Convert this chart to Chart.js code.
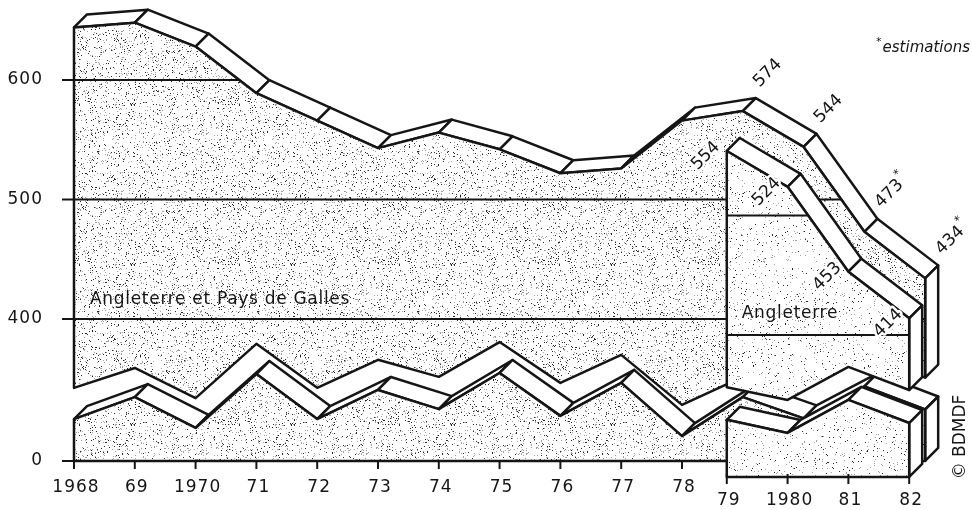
<!DOCTYPE html>
<html>
<head>
<meta charset="utf-8">
<style>
  html, body { margin: 0; padding: 0; background: #fff; }
  #chart { display: block; }
</style>
<script src="https://cdn.jsdelivr.net/npm/chart.js@4.4.1/dist/chart.umd.min.js"></script>
</head>
<body>
<canvas id="chart" width="972" height="510"></canvas>
<script>
// Angleterre et Pays de Galles, 1968-1982 (back layer)
const years = [1968, 1969, 1970, 1971, 1972, 1973, 1974, 1975, 1976, 1977, 1978, 1979, 1980, 1981, 1982];
const ewValues = [644, 648, 628, 589, 566, 543, 556, 542, 522, 526, 566, 574, 544, 473, 434];
// zigzag "cut" of the broken axis, in 0-400 units
const ewBreakTop = [206, 262, 177, 330, 206, 285, 237, 335, 220, 299, 158, 237, 210, 300, 235];
const ewBreakBottom = [118, 180, 93, 245, 118, 200, 146, 248, 127, 220, 70, 180, 120, 210, 145];

// Angleterre, 1979-1982 (front layer)
const englandYears = [1979, 1980, 1981, 1982];
const englandValues = [554, 524, 453, 414];
const englandBreakTop = [253, 217, 310, 245];
const englandBreakBottom = [161, 124, 217, 152];

const ewLabelYears = [1979, 1980, 1981, 1982];
const ewLabelTexts = ['574', '544', '473', '434'];
const ewLabelStars = [false, false, true, true];
const englandLabelTexts = ['554', '524', '453', '414'];

const yTicks = [0, 400, 500, 600];
const yTickLabels = ['0', '400', '500', '600'];
const backXTicks = [1968, 1969, 1970, 1971, 1972, 1973, 1974, 1975, 1976, 1977, 1978];
const backXLabels = ['1968', '69', '1970', '71', '72', '73', '74', '75', '76', '77', '78'];
const frontXTicks = [1979, 1980, 1981, 1982];
const frontXLabels = ['79', '1980', '81', '82'];

// axis is broken below 400: 0..400 squeezed
const BREAK_FROM = 400;
const BREAK_RATIO = 0.297;
function toAxis(v) {
  return v >= BREAK_FROM ? v : BREAK_FROM - (BREAK_FROM - v) * BREAK_RATIO;
}

const BACK = { dx: 0, dy: 0 };
const FRONT = { dx: -16, dy: 16 };
const DEPTH = { x: 13, y: -13 };
const INK = '#151515';
const FONT = '"DejaVu Sans", sans-serif';

const canvas = document.getElementById('chart');
const ctx0 = canvas.getContext('2d');

function speckle(density, seed) {
  const size = 160;
  const c = document.createElement('canvas');
  c.width = size;
  c.height = size;
  const g = c.getContext('2d');
  g.fillStyle = '#fff';
  g.fillRect(0, 0, size, size);
  const img = g.getImageData(0, 0, size, size);
  let s = seed;
  for (let i = 0; i < size * size; i += 1) {
    s = (s * 16807) % 2147483647;
    const r = s / 2147483647;
    if (r < density) {
      const shade = r < density * 0.4 ? 40 : 160;
      img.data[i * 4] = shade;
      img.data[i * 4 + 1] = shade;
      img.data[i * 4 + 2] = shade;
    }
  }
  g.putImageData(img, 0, 0);
  return ctx0.createPattern(c, 'repeat');
}

const darkFill = speckle(0.1, 4711);
const lightFill = speckle(0.045, 917);

const shift = (p) => ({ x: p.x + DEPTH.x, y: p.y + DEPTH.y });

function polyPath(ctx, pts) {
  ctx.beginPath();
  pts.forEach((p, i) => (i ? ctx.lineTo(p.x, p.y) : ctx.moveTo(p.x, p.y)));
  ctx.closePath();
}

// one extruded block: front face between top and bottom polylines
function drawPiece(ctx, top, bottom, fill, gridYs) {
  ctx.lineWidth = 2.5;
  ctx.strokeStyle = INK;
  ctx.lineJoin = 'round';

  for (let i = 0; i < top.length - 1; i += 1) {
    const a = top[i];
    const b = top[i + 1];
    const cross = (b.x - a.x) * DEPTH.y - (b.y - a.y) * DEPTH.x;
    if (cross >= 0) continue;
    polyPath(ctx, [a, b, shift(b), shift(a)]);
    ctx.fillStyle = '#fff';
    ctx.fill();
    ctx.stroke();
  }

  const e = top[top.length - 1];
  const f = bottom[bottom.length - 1];
  polyPath(ctx, [e, shift(e), shift(f), f]);
  ctx.fillStyle = '#fff';
  ctx.fill();
  ctx.stroke();

  const face = top.concat(bottom.slice().reverse());
  polyPath(ctx, face);
  ctx.fillStyle = fill;
  ctx.fill();

  if (gridYs && gridYs.length) {
    ctx.save();
    polyPath(ctx, face);
    ctx.clip();
    ctx.lineWidth = 2;
    gridYs.forEach((y) => {
      ctx.beginPath();
      ctx.moveTo(0, y);
      ctx.lineTo(972, y);
      ctx.stroke();
    });
    ctx.restore();
  }

  ctx.lineWidth = 2.5;
  polyPath(ctx, face);
  ctx.stroke();
}

function rotatedText(ctx, text, x, y, angle, star, withHalo) {
  ctx.save();
  ctx.translate(x, y);
  ctx.rotate(angle);
  ctx.font = '17px ' + FONT;
  ctx.textAlign = 'center';
  ctx.textBaseline = 'middle';
  if (withHalo) {
    ctx.strokeStyle = '#fff';
    ctx.lineWidth = 5;
    ctx.strokeText(text, 0, 0);
  }
  ctx.fillStyle = INK;
  ctx.fillText(text, 0, 0);
  if (star) {
    const w = ctx.measureText(text).width;
    ctx.font = '12px ' + FONT;
    ctx.textAlign = 'left';
    ctx.fillText('*', w / 2 + 1, -8);
  }
  ctx.restore();
}

const ribbonPlugin = {
  id: 'ribbons',
  afterDatasetsDraw(chart) {
    const ctx = chart.ctx;
    const sx = chart.scales.x;
    const sy = chart.scales.y;
    const P = (layer, yr, v) => ({
      x: sx.getPixelForValue(yr) + layer.dx,
      y: sy.getPixelForValue(toAxis(v)) + layer.dy,
    });
    const gridY = (layer, v) => sy.getPixelForValue(toAxis(v)) + layer.dy;

    // back layer: Angleterre et Pays de Galles
    const ewTop = years.map((yr, i) => P(BACK, yr, ewValues[i]));
    const ewCut = years.map((yr, i) => P(BACK, yr, ewBreakTop[i]));
    const ewLowTop = years.map((yr, i) => P(BACK, yr, ewBreakBottom[i]));
    const ewBase = years.map((yr) => P(BACK, yr, 0));
    drawPiece(ctx, ewTop, ewCut, darkFill, [gridY(BACK, 400), gridY(BACK, 500), gridY(BACK, 600)]);
    drawPiece(ctx, ewLowTop, ewBase, darkFill, []);

    // axis ticks and baseline of the back layer
    const panelLeft = P(FRONT, englandYears[0], 0).x;
    const x0 = sx.getPixelForValue(years[0]);
    ctx.strokeStyle = INK;
    ctx.lineWidth = 2;
    yTicks.forEach((t) => {
      const y = gridY(BACK, t);
      ctx.beginPath();
      ctx.moveTo(x0 - 12, y);
      ctx.lineTo(x0, y);
      ctx.stroke();
    });
    const baseY = gridY(BACK, 0);
    ctx.beginPath();
    ctx.moveTo(x0 - 12, baseY);
    ctx.lineTo(panelLeft, baseY);
    ctx.stroke();
    backXTicks.forEach((yr) => {
      const x = sx.getPixelForValue(yr);
      ctx.beginPath();
      ctx.moveTo(x, baseY);
      ctx.lineTo(x, baseY + 8);
      ctx.stroke();
    });

    // front layer: Angleterre
    const enTop = englandYears.map((yr, i) => P(FRONT, yr, englandValues[i]));
    const enCut = englandYears.map((yr, i) => P(FRONT, yr, englandBreakTop[i]));
    const enLowTop = englandYears.map((yr, i) => P(FRONT, yr, englandBreakBottom[i]));
    const enBase = englandYears.map((yr) => P(FRONT, yr, 0));
    drawPiece(ctx, enTop, enCut, lightFill, [gridY(FRONT, 400), gridY(FRONT, 500)]);
    drawPiece(ctx, enLowTop, enBase, lightFill, []);

    const frontBaseY = gridY(FRONT, 0);
    ctx.strokeStyle = INK;
    ctx.lineWidth = 2;
    frontXTicks.forEach((yr) => {
      const x = P(FRONT, yr, 0).x;
      ctx.beginPath();
      ctx.moveTo(x, frontBaseY - 3);
      ctx.lineTo(x, frontBaseY + 7);
      ctx.stroke();
    });

    // texts
    ctx.fillStyle = INK;
    ctx.font = '17px ' + FONT;
    ctx.letterSpacing = '1px';
    ctx.textAlign = 'right';
    ctx.textBaseline = 'middle';
    yTicks.forEach((t, i) => ctx.fillText(yTickLabels[i], 43, gridY(BACK, t)));

    ctx.textAlign = 'center';
    backXTicks.forEach((yr, i) => ctx.fillText(backXLabels[i], sx.getPixelForValue(yr) + 2, baseY + 27));
    frontXTicks.forEach((yr, i) => ctx.fillText(frontXLabels[i], P(FRONT, yr, 0).x + 2, frontBaseY + 24));

    ctx.letterSpacing = '0.7px';
    ctx.textAlign = 'left';
    ctx.fillText('Angleterre et Pays de Galles', x0 + 16, gridY(BACK, 400) - 19);
    ctx.fillText('Angleterre', panelLeft + 15, gridY(FRONT, 400) - 21);
    ctx.letterSpacing = '0px';

    ewLabelYears.forEach((yr, i) => {
      const i0 = years.indexOf(yr);
      const p = P(BACK, yr, ewValues[i0]);
      rotatedText(ctx, ewLabelTexts[i], p.x + 25, p.y - 38, -Math.PI / 4, ewLabelStars[i], false);
    });
    englandYears.forEach((yr, i) => {
      const p = P(FRONT, yr, englandValues[i]);
      rotatedText(ctx, englandLabelTexts[i], p.x - 21, p.y + 5, -Math.PI / 4, false, true);
    });

    ctx.font = 'italic 15px ' + FONT;
    ctx.textAlign = 'right';
    const estW = ctx.measureText('estimations').width;
    ctx.fillText('estimations', 970, 48);
    ctx.font = '11px ' + FONT;
    ctx.fillText('*', 970 - estW - 1, 42);

    ctx.save();
    ctx.translate(961, 437);
    ctx.rotate(-Math.PI / 2);
    ctx.font = '17px ' + FONT;
    ctx.textAlign = 'center';
    ctx.fillText('\u00A9 BDMDF', 0, 0);
    ctx.restore();
  },
};

new Chart(canvas, {
  type: 'scatter',
  data: {
    datasets: [
      {
        label: 'Angleterre et Pays de Galles',
        data: years.map((yr, i) => ({ x: yr, y: toAxis(ewValues[i]) })),
        pointRadius: 0,
        showLine: false,
      },
      {
        label: 'Angleterre',
        data: englandYears.map((yr, i) => ({ x: yr - 16 / 60.8, y: toAxis(englandValues[i]) })),
        pointRadius: 0,
        showLine: false,
      },
    ],
  },
  options: {
    responsive: false,
    animation: false,
    devicePixelRatio: 1,
    layout: { padding: 0 },
    events: [],
    scales: {
      x: { type: 'linear', min: 1966.783, max: 1982.77, display: false },
      y: { type: 'linear', min: 240.17, max: 666.95, display: false },
    },
    plugins: {
      legend: { display: false },
      tooltip: { enabled: false },
    },
  },
  plugins: [ribbonPlugin],
});
</script>
</body>
</html>
